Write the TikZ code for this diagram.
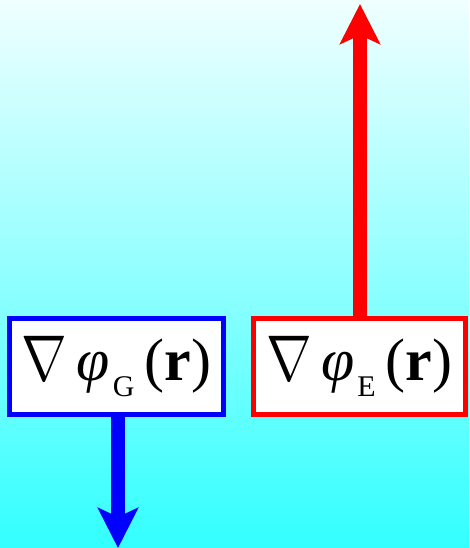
\documentclass[tikz,border=0pt]{standalone}
\usepackage{graphicx}
\usepackage{fontspec}
\setmainfont{Liberation Serif}
\usetikzlibrary{arrows.meta}
\tikzset{
  gbox/.style={draw=#1, line width=5pt, fill=white, minimum width=214pt, minimum height=96pt, inner sep=0pt, font=\fontsize{60}{60}\selectfont},
  bigarrow/.style={draw=#1, line width=14pt, -{Stealth[length=40pt, width=40pt, inset=9pt]}}
}
\newcommand{\gradlabel}[1]{\scalebox{2.2}[2.6]{$\nabla$}\hspace{9pt}\textit{φ}\hspace{3pt}\raisebox{-16pt}{\fontsize{30}{30}\selectfont #1}\hspace{10pt}(\textbf{r})}
\begin{document}
\begin{tikzpicture}[x=1pt,y=1pt]
\useasboundingbox (0,0) rectangle (469,548);
\shade[top color={rgb,255:red,240;green,255;blue,255}, bottom color={rgb,255:red,51;green,255;blue,255}] (0,0) rectangle (469,548);
\node[gbox=blue] (g) at (116.5,181.5) {\gradlabel{G}};
\node[gbox=red, minimum width=212pt] (e) at (359.5,181.5) {\gradlabel{E}};
\coordinate (etip) at (360,544);
\coordinate (gtip) at (118,0);
\draw[bigarrow=red] (e.north -| etip) -- (etip);
\draw[bigarrow=blue] (g.south -| gtip) -- (gtip);
\end{tikzpicture}
\end{document}
